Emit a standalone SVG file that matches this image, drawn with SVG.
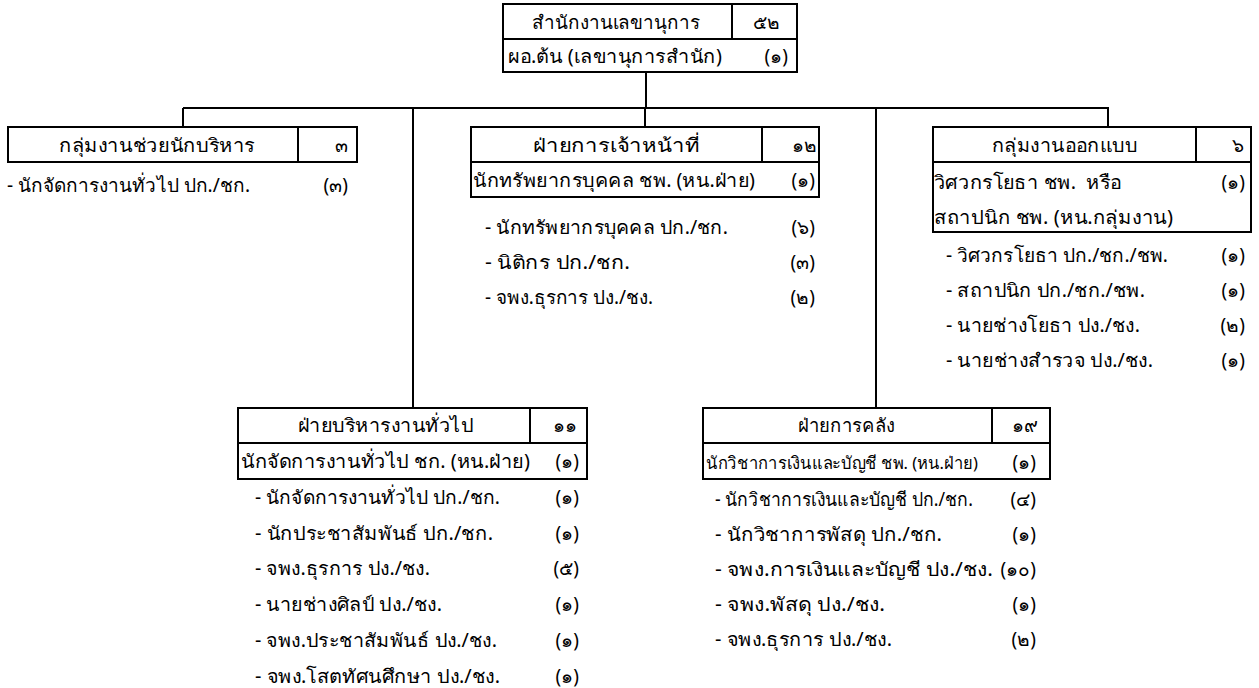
<svg xmlns="http://www.w3.org/2000/svg" width="1259" height="688" viewBox="0 0 1259 688">
<style>
text{font-family:"Noto Sans",sans-serif;font-size:19px;fill:#000;dominant-baseline:central;white-space:pre}
.c{text-anchor:middle}
.e{text-anchor:end}
.s{font-size:17px}
.box{fill:#fff;stroke:#000;stroke-width:2}
.ln{fill:none;stroke:#000;stroke-width:2}
</style>
<rect width="1259" height="688" fill="#fff"/>
<g id="connectors" class="ln">
<path d="M646 72V108M183 108H876M183 108V127M413 108V408M645 108V127M876 108V408M876 108H1108V127"/>
</g>
<g id="top">
<rect class="box" x="503" y="4" width="294" height="68"/>
<path class="ln" d="M503 39H797M732 4V39"/>
<text x="532" y="22" textLength="168" lengthAdjust="spacingAndGlyphs">สำนักงานเลขานุการ</text>
<text class="c" x="766" y="22">๕๒</text>
<text x="508" y="56" textLength="214" lengthAdjust="spacingAndGlyphs">ผอ.ต้น (เลขานุการสำนัก)</text>
<text class="e" x="788" y="56">(๑)</text>
</g>
<g id="assist">
<rect class="box" x="8" y="127" width="349" height="35"/>
<path class="ln" d="M298 127V162"/>
<text x="59" y="145" textLength="196" lengthAdjust="spacingAndGlyphs">กลุ่มงานช่วยนักบริหาร</text>
<text class="e" x="348" y="145">๓</text>
<text x="7" y="185" textLength="243" lengthAdjust="spacingAndGlyphs">- นักจัดการงานทั่วไป ปก./ชก.</text>
<text class="e" x="348" y="185">(๓)</text>
</g>
<g id="personnel">
<rect class="box" x="471" y="127" width="348" height="70"/>
<path class="ln" d="M471 162H819M762 127V162"/>
<text x="533" y="145" textLength="167" lengthAdjust="spacingAndGlyphs">ฝ่ายการเจ้าหน้าที่</text>
<text class="e" x="817" y="145">๑๒</text>
<text x="473" y="180" textLength="282" lengthAdjust="spacingAndGlyphs">นักทรัพยากรบุคคล ชพ. (หน.ฝ่าย)</text>
<text class="e" x="815" y="180">(๑)</text>
<text x="485" y="227" textLength="243" lengthAdjust="spacingAndGlyphs">- นักทรัพยากรบุคคล ปก./ชก.</text>
<text class="e" x="815" y="227">(๖)</text>
<text x="485" y="262" textLength="145" lengthAdjust="spacingAndGlyphs">- นิติกร ปก./ชก.</text>
<text class="e" x="815" y="262">(๓)</text>
<text x="485" y="297" textLength="168" lengthAdjust="spacingAndGlyphs">- จพง.ธุรการ ปง./ชง.</text>
<text class="e" x="815" y="297">(๒)</text>
</g>
<g id="design">
<rect class="box" x="933" y="127" width="318" height="105"/>
<path class="ln" d="M933 162H1251M1196 127V162"/>
<text x="992" y="145" textLength="145" lengthAdjust="spacingAndGlyphs">กลุ่มงานออกแบบ</text>
<text class="e" x="1244" y="145">๖</text>
<text x="934" y="182" textLength="188" lengthAdjust="spacingAndGlyphs">วิศวกรโยธา ชพ.  หรือ</text>
<text class="e" x="1245" y="182">(๑)</text>
<text x="934" y="217" textLength="239" lengthAdjust="spacingAndGlyphs">สถาปนิก ชพ. (หน.กลุ่มงาน)</text>
<text x="946" y="255" textLength="222" lengthAdjust="spacingAndGlyphs">- วิศวกรโยธา ปก./ชก./ชพ.</text>
<text class="e" x="1245" y="255">(๑)</text>
<text x="946" y="290" textLength="199" lengthAdjust="spacingAndGlyphs">- สถาปนิก ปก./ชก./ชพ.</text>
<text class="e" x="1245" y="290">(๑)</text>
<text x="946" y="325" textLength="194" lengthAdjust="spacingAndGlyphs">- นายช่างโยธา ปง./ชง.</text>
<text class="e" x="1245" y="325">(๒)</text>
<text x="946" y="360" textLength="207" lengthAdjust="spacingAndGlyphs">- นายช่างสำรวจ ปง./ชง.</text>
<text class="e" x="1245" y="360">(๑)</text>
</g>
<g id="admin">
<rect class="box" x="238" y="408" width="349" height="71"/>
<path class="ln" d="M238 443H587M530 408V443"/>
<text x="298" y="425" textLength="175" lengthAdjust="spacingAndGlyphs">ฝ่ายบริหารงานทั่วไป</text>
<text class="e" x="577" y="425">๑๑</text>
<text x="241" y="461" textLength="289" lengthAdjust="spacingAndGlyphs">นักจัดการงานทั่วไป ชก. (หน.ฝ่าย)</text>
<text class="e" x="579" y="461">(๑)</text>
<text x="255" y="497" textLength="245" lengthAdjust="spacingAndGlyphs">- นักจัดการงานทั่วไป ปก./ชก.</text>
<text class="e" x="579" y="497">(๑)</text>
<text x="255" y="533" textLength="238" lengthAdjust="spacingAndGlyphs">- นักประชาสัมพันธ์ ปก./ชก.</text>
<text class="e" x="579" y="533">(๑)</text>
<text x="255" y="568" textLength="175" lengthAdjust="spacingAndGlyphs">- จพง.ธุรการ ปง./ชง.</text>
<text class="e" x="579" y="568">(๕)</text>
<text x="255" y="604" textLength="187" lengthAdjust="spacingAndGlyphs">- นายช่างศิลป์ ปง./ชง.</text>
<text class="e" x="579" y="604">(๑)</text>
<text x="255" y="640" textLength="242" lengthAdjust="spacingAndGlyphs">- จพง.ประชาสัมพันธ์ ปง./ชง.</text>
<text class="e" x="579" y="640">(๑)</text>
<text x="255" y="676" textLength="245" lengthAdjust="spacingAndGlyphs">- จพง.โสตทัศนศึกษา ปง./ชง.</text>
<text class="e" x="579" y="676">(๑)</text>
</g>
<g id="finance">
<rect class="box" x="703" y="408" width="347" height="71"/>
<path class="ln" d="M703 443H1050M992 408V443"/>
<text x="798" y="425" textLength="97" lengthAdjust="spacingAndGlyphs">ฝ่ายการคลัง</text>
<text class="e" x="1038" y="425">๑๙</text>
<text class="s" x="706" y="462" textLength="272" lengthAdjust="spacingAndGlyphs">นักวิชาการเงินและบัญชี ชพ. (หน.ฝ่าย)</text>
<text class="e" x="1036" y="462">(๑)</text>
<text x="715" y="499" textLength="258" lengthAdjust="spacingAndGlyphs">- นักวิชาการเงินและบัญชี ปก./ชก.</text>
<text class="e" x="1036" y="499">(๔)</text>
<text x="715" y="534" textLength="227" lengthAdjust="spacingAndGlyphs">- นักวิชาการพัสดุ ปก./ชก.</text>
<text class="e" x="1036" y="534">(๑)</text>
<text x="715" y="569" textLength="278" lengthAdjust="spacingAndGlyphs">- จพง.การเงินและบัญชี ปง./ชง.</text>
<text class="e" x="1036" y="569">(๑๐)</text>
<text x="715" y="604" textLength="170" lengthAdjust="spacingAndGlyphs">- จพง.พัสดุ ปง./ชง.</text>
<text class="e" x="1036" y="604">(๑)</text>
<text x="715" y="639" textLength="177" lengthAdjust="spacingAndGlyphs">- จพง.ธุรการ ปง./ชง.</text>
<text class="e" x="1036" y="639">(๒)</text>
</g>
</svg>
